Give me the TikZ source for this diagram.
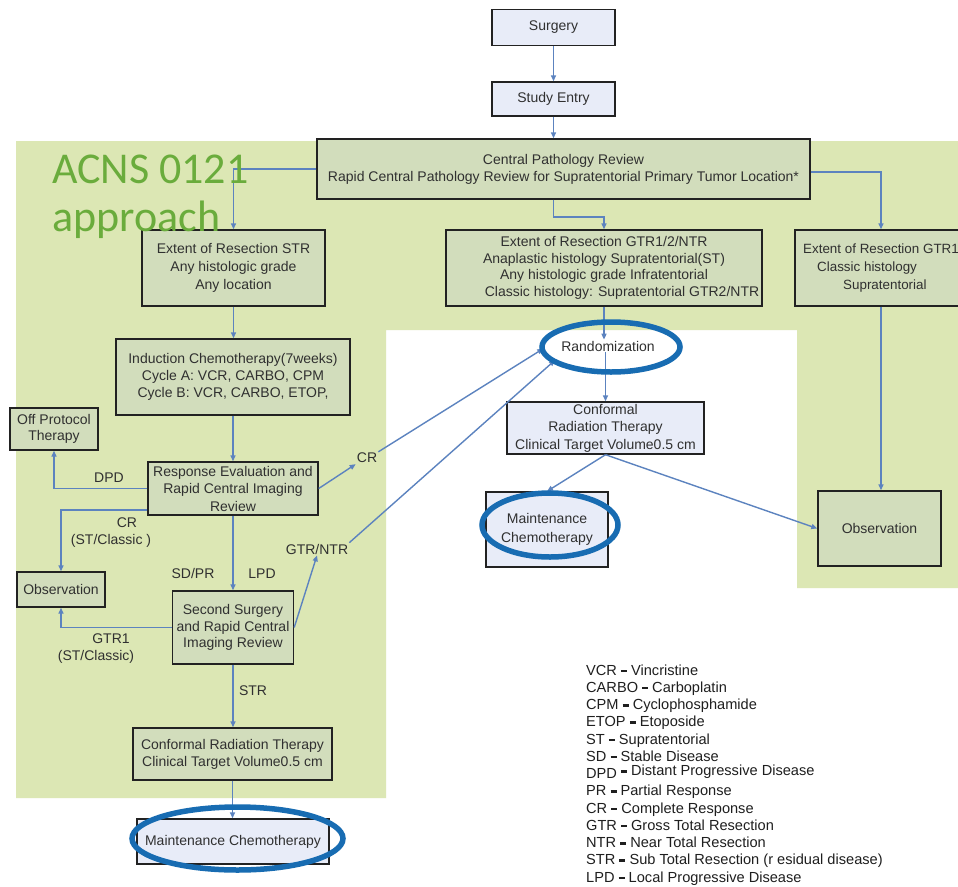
\documentclass[tikz,border=0pt]{standalone}
\usepackage{fontspec}
\setmainfont{Liberation Sans}
\newfontfamily\acnsfont{Carlito}
\usetikzlibrary{arrows.meta,shapes.geometric}
\definecolor{bggreen}{RGB}{220,231,180}
\definecolor{boxgreen}{RGB}{210,221,188}
\definecolor{boxblue}{RGB}{232,236,248}
\definecolor{boxline}{RGB}{34,34,34}
\definecolor{arrowblue}{RGB}{92,131,191}
\definecolor{ringblue}{RGB}{24,108,178}
\definecolor{txt}{RGB}{48,48,48}
\definecolor{acns}{RGB}{106,172,60}
\newcommand\lgdash{\rule[2.8pt]{6pt}{2.6pt}}
\pgfdeclarelayer{bg}\pgfdeclarelayer{fg}\pgfsetlayers{bg,main,fg}
\begin{document}
\begin{tikzpicture}[x=1pt,y=-1pt,
  every node/.style={text=txt},
  box/.style={draw=boxline, line width=1.4pt, fill=boxgreen, inner sep=1pt, align=center, font=\fontsize{14}{17}\selectfont},
  bbox/.style={box, fill=boxblue},
  arr/.style={draw=arrowblue, line width=1.4pt, -{Triangle[length=6pt,width=5pt]}},
  lbl/.style={font=\fontsize{14}{17}\selectfont, inner sep=1pt},
  ring/.style={draw=ringblue, line width=5.5pt, ellipse, inner sep=0pt},
  lgd/.style={font=\fontsize{14.6}{17}\selectfont, text=black!88, inner sep=0pt, anchor=base west},
  acnstext/.style={font=\acnsfont\fontsize{44}{47}\selectfont, text=acns, anchor=base west, inner sep=0pt}
]
\useasboundingbox (0,0) rectangle (958,886);
\begin{pgfonlayer}{bg}
\fill[white] (0,0) rectangle (958,886);
\fill[bggreen] (16,141) -- (958,141) -- (958,588) -- (797,588) -- (797,330) -- (386,330) -- (386,798) -- (16,798) -- cycle;
\end{pgfonlayer}

% boxes
\node[bbox, minimum width=123pt, minimum height=36pt] (surgery) at (553.5,27.5) {Surgery};
\node[bbox, minimum width=123pt, minimum height=34pt] (entry) at (553.5,99) {Study Entry};
\node[box, minimum width=493pt, minimum height=60pt] (central) at (563.5,169) {Central Pathology Review\\Rapid Central Pathology Review for Supratentorial Primary Tumor Location*};
\node[box, minimum width=183pt, minimum height=76pt, font=\fontsize{14}{18}\selectfont] (strbox) at (233.5,268) {Extent of Resection STR\\Any histologic grade\\Any location};
\node[box, minimum width=316pt, minimum height=76pt, font=\fontsize{14}{16.7}\selectfont] (gtrbox) at (604,268) {Extent of Resection GTR1/2/NTR\\Anaplastic histology Supratentorial(ST)\\Any histologic grade Infratentorial\\\hspace*{36pt}Classic histology: Supratentorial GTR2/NTR};
\node[box, minimum width=172pt, minimum height=76pt, align=left, font=\fontsize{13.4}{18}\selectfont] (rightbox) at (881,268) {Extent of Resection GTR1\\\hspace*{14pt}Classic histology\\\hspace*{40pt}Supratentorial};
\node[box, minimum width=234pt, minimum height=76pt] (induct) at (233,377) {Induction Chemotherapy(7weeks)\\Cycle A: VCR, CARBO, CPM\\Cycle B: VCR, CARBO, ETOP,};
\node[box, minimum width=170pt, minimum height=53pt, font=\fontsize{14}{17.5}\selectfont] (resp) at (233,488.5) {Response Evaluation and\\Rapid Central Imaging\\Review};
\node[box, minimum width=88pt, minimum height=42pt, font=\fontsize{14}{16}\selectfont] (offp) at (54,429) {Off Protocol\\Therapy};
\node[box, minimum width=88pt, minimum height=35pt] (obsl) at (61,589.5) {Observation};
\node[box, minimum width=121pt, minimum height=73pt, font=\fontsize{14}{16.5}\selectfont] (second) at (233,627.5) {Second Surgery\\and Rapid Central\\Imaging Review};
\node[box, minimum width=199pt, minimum height=52pt] (confl) at (232.5,754) {Conformal Radiation Therapy\\Clinical Target Volume0.5 cm};
\node[bbox, minimum width=192pt, minimum height=45pt] (maintl) at (233,841.5) {Maintenance Chemotherapy};
\node[bbox, minimum width=197pt, minimum height=52pt, font=\fontsize{14}{17.5}\selectfont] (confm) at (605.5,428) {Conformal\\Radiation Therapy\\Clinical Target Volume0.5 cm};
\node[bbox, minimum width=122pt, minimum height=75pt, font=\fontsize{14}{19}\selectfont] (maintm) at (547,529.5) {Maintenance\\Chemotherapy};
\node[box, minimum width=123pt, minimum height=75pt] (obsr) at (879.5,528.5) {Observation};
\node[lbl] (rand) at (608,346) {Randomization};

% labels
\node[lbl] (dpd) at (109,478) {DPD};
\node[lbl] (crl) at (127,523) {CR};
\node[lbl] (crl2) at (111,541) {(ST/Classic )};
\node[lbl] (cr2) at (367,458) {CR};
\node[lbl] (sdpr) at (193,573) {SD/PR};
\node[lbl] (lpd) at (262,574) {LPD};
\node[lbl] (gtrntr) at (317,549) {GTR/NTR};
\node[lbl] (gtr1) at (111,639) {GTR1};
\node[lbl] (gtr1b) at (96,657) {(ST/Classic)};
\node[lbl] (strl) at (253,691) {STR};

% rings
\begin{pgfonlayer}{fg}
\node[ring, minimum width=138pt, minimum height=50pt] (randring) at (611,347) {};
\node[ring, minimum width=136pt, minimum height=64pt] (maintmring) at (550,525) {};
\node[ring, minimum width=211pt, minimum height=63pt] (maintlring) at (237.5,838.5) {};
\node[acnstext] (acns1) at (52,183) {ACNS 0121};
\node[acnstext] (acns2) at (52,231) {approach};
\end{pgfonlayer}

% connectors
\draw[arr] (surgery.south) -- (surgery.south |- entry.north);
\draw[arr] (entry.south) -- (entry.south |- central.north);
\draw[arr] (central.west) -| (strbox.north);
\draw[arr] (central.south -| entry.south) |- (gtrbox.north |- 0,217) -- (gtrbox.north);
\draw[arr] (central.east |- 0,172) -| (rightbox.north);
\draw[arr] (strbox.south) -- (strbox.south |- induct.north);
\draw[arr] (induct) -- (resp);
\draw[arr] (resp.west) -| (offp.south);
\draw[arr] (resp.west |- 0,510) -| (obsl.north);
\draw[arr] (resp) -- (second);
\draw[arr] (second.west) -| (obsl.south);
\draw[arr] (second.east) -- (gtrntr.south);
\draw[arr] (resp.east) -- (cr2.south west);
\draw[arr, shorten >=-4pt] (cr2.north east) -- (randring.183);
\draw[arr, shorten >=-4pt] (gtrntr.north east) -- (randring.195);
\draw[arr] (second.south) -- (second.south |- confl.north);
\draw[arr] (confl.south) -- (confl.south |- maintl.north);
\draw[arr] (gtrbox.south) -- (gtrbox.south |- rand.north);
\draw[arr] (rand.south -| confm.north) -- (confm.north);
\draw[arr] (confm.south) -- (maintm.north);
\draw[arr] (confm.south) -- (obsr.west);
\draw[arr] (rightbox.south) -- (rightbox.south |- obsr.north);

% legend
\node[lgd] (lg1) at (586,675) {VCR \lgdash{} Vincristine};
\node[lgd] (lg2) at (586,692.25) {CARBO \lgdash{} Carboplatin};
\node[lgd] (lg3) at (586,709.5) {CPM \lgdash{} Cyclophosphamide};
\node[lgd] (lg4) at (586,726.75) {ETOP \lgdash{} Etoposide};
\node[lgd] (lg5) at (586,744) {ST \lgdash{} Supratentorial};
\node[lgd] (lg6) at (586,761.25) {SD \lgdash{} Stable Disease};
\node[lgd] (lg7) at (586,778.5) {DPD \raisebox{3pt}{\lgdash{} Distant Progressive Disease}};
\node[lgd] (lg8) at (586,795.75) {PR \lgdash{} Partial Response};
\node[lgd] (lg9) at (586,813) {CR \lgdash{} Complete Response};
\node[lgd] (lg10) at (586,830.25) {GTR \lgdash{} Gross Total Resection};
\node[lgd] (lg11) at (586,847.5) {NTR \lgdash{} Near Total Resection};
\node[lgd] (lg12) at (586,864.75) {STR \lgdash{} Sub Total Resection (r esidual disease)};
\node[lgd] (lg13) at (586,882) {LPD \lgdash{} Local Progressive Disease};
\end{tikzpicture}
\end{document}
